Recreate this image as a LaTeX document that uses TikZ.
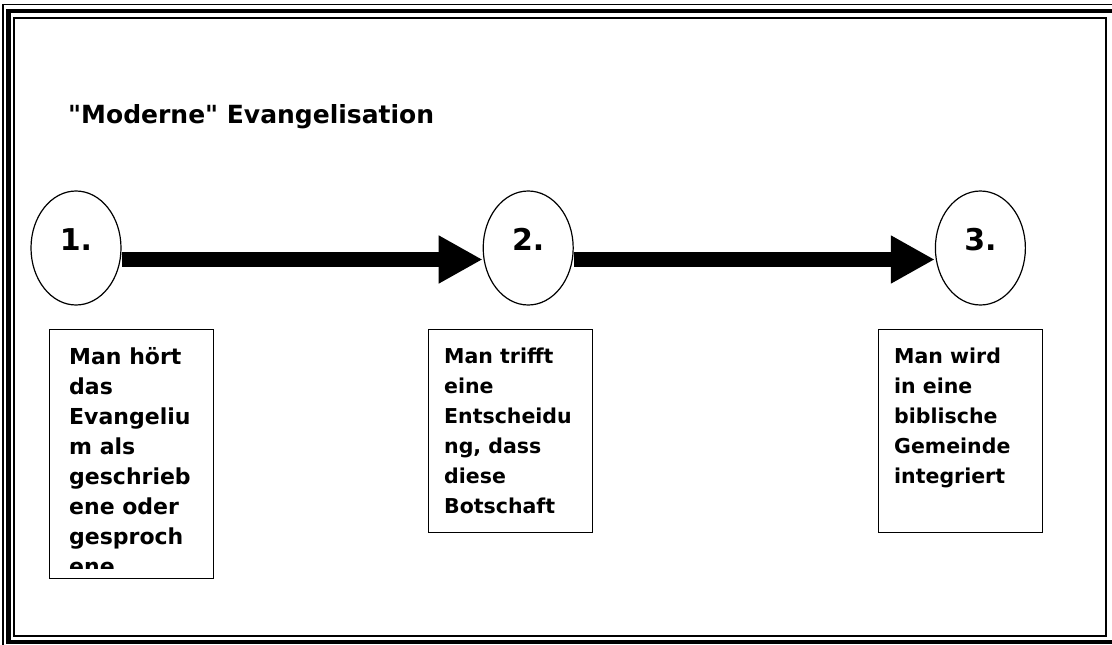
\documentclass[tikz,border=0pt]{standalone}
\usepackage{fontspec}
\newfontfamily\diagfont{DejaVu Sans}
\usetikzlibrary{arrows.meta, positioning, shapes.geometric}

\begin{document}
\begin{tikzpicture}[
    x=1pt, y=-1pt,
    node distance=361pt,
    oval/.style={draw, ellipse, line width=1.2pt, minimum width=90pt, minimum height=114pt, inner sep=0pt},
    numtext/.style={font=\diagfont\fontsize{30}{34}\selectfont\bfseries, inner sep=0pt, anchor=base},
    stepbox/.style={draw, rectangle, line width=1.2pt, minimum width=164pt, anchor=north west, inner sep=0pt},
    boxtext/.style={font=\diagfont\fontsize{22}{30}\selectfont\bfseries, align=left, anchor=north west, inner sep=0pt},
    >={Triangle[length=44pt, width=45pt]} % Arrow style
]
\useasboundingbox (0,0) rectangle (1112,645);
\clip (0,0) rectangle (1112,645);

% Frame
\draw[line width=1.5pt] (3,4.5) rectangle (1125,660);
\draw[line width=4.5pt] (8.5,11) rectangle (1125,642);
\draw[line width=2pt] (13.5,17.5) rectangle (1106,635.5);

% Title
\node[font=\diagfont\fontsize{25}{30}\selectfont\bfseries, anchor=base west, inner sep=0pt] (title) at (68,123) {"Moderne" Evangelisation};

% Nodes
\node[oval] (o1) at (76,248) {};
\node[oval, right=of o1] (o2) {};
\node[oval, right=of o2] (o3) {};
\node[numtext] (n1) at ([yshift=-2pt]o1.center) {1.};
\node[numtext] (n2) at ([yshift=-2pt]o2.center) {2.};
\node[numtext] (n3) at ([yshift=-2pt]o3.center) {3.};

% Boxes
\node[stepbox, minimum height=249pt] (b1) at (49,329) {};
\node[stepbox, minimum height=203pt] (b2) at (428,329) {};
\node[stepbox, minimum height=203pt] (b3) at (878,329) {};

\begin{scope}
\clip (49,329) rectangle (213,568);
\node[boxtext] (t1) at ([xshift=20pt, yshift=-18pt]b1.north west) {Man hört\\das\\Evangeliu\\m als\\geschrieb\\ene oder\\gesproch\\ene};
\end{scope}
\node[boxtext, font=\diagfont\fontsize{20.5}{30}\selectfont\bfseries] (t2) at ([xshift=16pt, yshift=-19pt]b2.north west) {Man trifft\\eine\\Entscheidu\\ng, dass\\diese\\Botschaft};
\node[boxtext, font=\diagfont\fontsize{20.5}{30}\selectfont\bfseries] (t3) at ([xshift=16pt, yshift=-19pt]b3.north west) {Man wird\\in eine\\biblische\\Gemeinde\\integriert};

% Arrows
\draw[->, line width=15pt] ([yshift=-11.5pt]o1.east) -- ([yshift=-11.5pt]o2.west);
\draw[->, line width=15pt] ([yshift=-11.5pt]o2.east) -- ([yshift=-11.5pt]o3.west);

\end{tikzpicture}
\end{document}
